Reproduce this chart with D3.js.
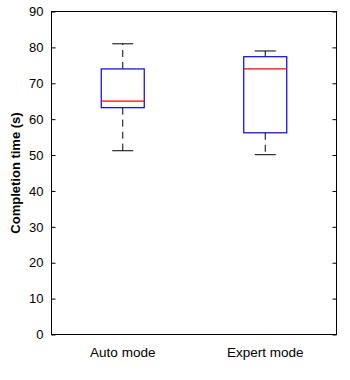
<!DOCTYPE html>
<html>
<head>
<script src="https://d3js.org/d3.v7.min.js"></script>
<style>
body { margin: 0; background: #fff; }
text { font-family: Arial, "Liberation Sans", sans-serif; }
</style>
</head>
<body>
<svg width="350" height="380"></svg>
<script>
// box stats
var groups = ["Auto mode", "Expert mode"];
var mins = [51.2, 50.1];
var q1s = [63.2, 56.2];
var medians = [65.0, 74.0];
var q3s = [74.0, 77.4];
var maxs = [81.0, 79.0];
var yTicks = [0, 10, 20, 30, 40, 50, 60, 70, 80, 90];

var plotL = 51.5, plotR = 336.5, plotT = 11.5, plotB = 334.5;

var svg = d3.select("svg");

var y = d3.scaleLinear().domain([0, 90]).range([plotB, plotT]);
var x = d3.scaleBand().domain(groups).range([plotL, plotR]).padding(0);

var boxW = 43, capW = 21;

// frame
svg.append("rect")
  .attr("x", plotL).attr("y", plotT)
  .attr("width", plotR - plotL).attr("height", plotB - plotT)
  .attr("fill", "none").attr("stroke", "#000").attr("stroke-width", 1);

// left axis, ticks inward
svg.append("g")
  .attr("transform", "translate(" + plotL + ",0)")
  .call(d3.axisLeft(y).tickValues(yTicks).tickSize(-4).tickPadding(8))
  .call(function(g) {
    g.select(".domain").remove();
    g.selectAll("text").style("font-size", "13px").attr("fill", "#000");
  });

// right axis ticks
svg.append("g")
  .attr("transform", "translate(" + plotR + ",0)")
  .call(d3.axisRight(y).tickValues(yTicks).tickSize(-4).tickFormat(""))
  .call(function(g) { g.select(".domain").remove(); });

// category labels
svg.append("g")
  .attr("transform", "translate(0," + plotB + ")")
  .call(d3.axisBottom(x).tickSize(0).tickPadding(13))
  .call(function(g) {
    g.select(".domain").remove();
    g.selectAll("text").style("font-size", "13.5px").attr("fill", "#000");
  });

// y label
svg.append("text")
  .attr("transform", "translate(20," + ((plotT + plotB) / 2) + ") rotate(-90)")
  .attr("text-anchor", "middle")
  .style("font-size", "13px").style("font-weight", "bold")
  .text("Completion time (s)");

groups.forEach(function(g, i) {
  var cx = x(g) + x.bandwidth() / 2;
  var b = svg.append("g");
  // whiskers
  b.append("line").attr("x1", cx).attr("x2", cx)
    .attr("y1", y(q3s[i])).attr("y2", y(maxs[i]))
    .attr("stroke", "#000").attr("stroke-dasharray", "7,5");
  b.append("line").attr("x1", cx).attr("x2", cx)
    .attr("y1", y(q1s[i])).attr("y2", y(mins[i]))
    .attr("stroke", "#000").attr("stroke-dasharray", "7,5");
  // caps
  [mins[i], maxs[i]].forEach(function(v) {
    b.append("line").attr("x1", cx - capW / 2).attr("x2", cx + capW / 2)
      .attr("y1", y(v)).attr("y2", y(v)).attr("stroke", "#000");
  });
  // box
  b.append("rect")
    .attr("x", cx - boxW / 2).attr("y", y(q3s[i]))
    .attr("width", boxW).attr("height", y(q1s[i]) - y(q3s[i]))
    .attr("fill", "none").attr("stroke", "#0000ff").attr("stroke-width", 1.2);
  // median
  b.append("line").attr("x1", cx - boxW / 2).attr("x2", cx + boxW / 2)
    .attr("y1", y(medians[i])).attr("y2", y(medians[i]))
    .attr("stroke", "#ff0000").attr("stroke-width", 1.2);
});
</script>
</body>
</html>
